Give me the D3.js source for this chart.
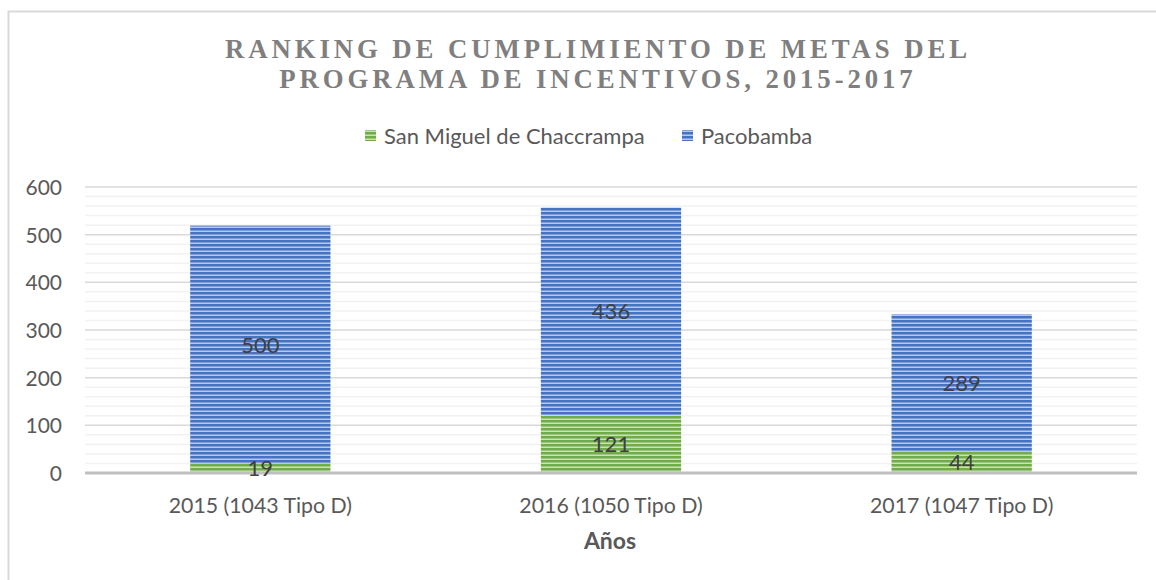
<!DOCTYPE html>
<html><head><meta charset="utf-8">
<script src="https://cdn.jsdelivr.net/npm/d3@7"></script>
<style>body{margin:0;background:#fff}svg{display:block}</style>
</head><body><svg id="c" width="1156" height="580"></svg>
<script>
const categories = ["2015 (1043 Tipo D)", "2016 (1050 Tipo D)", "2017 (1047 Tipo D)"];
const seriesNames = ["San Miguel de Chaccrampa", "Pacobamba"];
const sanMiguel = [19, 121, 44];
const pacobamba = [500, 436, 289];
const yTicks = [0, 100, 200, 300, 400, 500, 600];
const titleLines = ["RANKING DE CUMPLIMIENTO DE METAS DEL", "PROGRAMA DE INCENTIVOS, 2015-2017"];
const xTitle = "Años";

const svg = d3.select("#c");
const font = "Lato, 'Open Sans', sans-serif";
const colors = {dark: ["#70ad47", "#4472c4"], light: ["#c9e2b8", "#b7c9ea"]};

const defs = svg.append("defs");
seriesNames.forEach((s, i) => {
  const p = defs.append("pattern").attr("id", "pat" + i).attr("patternUnits", "userSpaceOnUse")
    .attr("width", 8).attr("height", 4);
  p.append("rect").attr("width", 8).attr("height", 4).attr("fill", colors.dark[i]);
  p.append("rect").attr("y", 2.5).attr("width", 8).attr("height", 1.5).attr("fill", colors.light[i]);
});

// border
svg.append("rect").attr("x", 8.5).attr("y", 11.5).attr("width", 1200).attr("height", 600)
  .attr("fill", "none").attr("stroke", "#d9d9d9").attr("stroke-width", 2);

const x = d3.scaleBand().domain(categories).range([85, 1137]).paddingInner(0.6).paddingOuter(0.3);
const y = d3.scaleLinear().domain([0, 600]).range([473, 187]);

// minor grid
const minor = d3.range(20, 601, 20).filter(v => v % 100 !== 0);
svg.append("g").selectAll("line").data(minor).join("line")
  .attr("x1", 85).attr("x2", 1137).attr("y1", d => y(d)).attr("y2", d => y(d))
  .attr("stroke", "#f2f2f2").attr("stroke-width", 1.5);
// major grid
svg.append("g").selectAll("line").data(yTicks.filter(v => v > 0)).join("line")
  .attr("x1", 85).attr("x2", 1137).attr("y1", d => y(d)).attr("y2", d => y(d))
  .attr("stroke", "#d9d9d9").attr("stroke-width", 1.5);

// y axis labels
const yAxis = d3.axisLeft(y).tickValues(yTicks).tickSize(0).tickPadding(0);
const gy = svg.append("g").attr("transform", "translate(62,0)").call(yAxis);
gy.select(".domain").remove();
gy.selectAll("text").attr("font-family", font).attr("font-size", 21).attr("fill", "#595959").attr("dy", "0.36em");

// stacked bars
const stackData = categories.map((c, i) => ({cat: c, s0: sanMiguel[i], s1: pacobamba[i]}));
const stack = d3.stack().keys(["s0", "s1"])(stackData);
stack.forEach((layer, li) => {
  svg.append("g").selectAll("rect").data(layer).join("rect")
    .attr("x", d => x(d.data.cat)).attr("width", x.bandwidth())
    .attr("y", d => y(d[1])).attr("height", d => y(d[0]) - y(d[1]))
    .attr("fill", `url(#pat${li})`);
});

// x axis line
svg.append("line").attr("x1", 85).attr("x2", 1137).attr("y1", y(0)).attr("y2", y(0))
  .attr("stroke", "#bfbfbf").attr("stroke-width", 3);

// data labels
stack.forEach((layer) => {
  svg.append("g").selectAll("text").data(layer).join("text")
    .attr("x", d => x(d.data.cat) + x.bandwidth() / 2)
    .attr("y", d => (y(d[0]) + y(d[1])) / 2).attr("dy", "0.36em")
    .attr("text-anchor", "middle").attr("font-family", font).attr("font-size", 22)
    .attr("fill", "#404040").text(d => d[1] - d[0]);
});

// x axis labels
const xAxis = d3.axisBottom(x).tickSize(0).tickPadding(0);
const gx = svg.append("g").attr("transform", "translate(0,513)").call(xAxis);
gx.select(".domain").remove();
gx.selectAll("text").attr("font-family", font).attr("font-size", 21.3).attr("fill", "#595959").attr("dy", 0);

svg.append("text").attr("x", 610).attr("y", 549).attr("text-anchor", "middle")
  .attr("font-family", font).attr("font-size", 23).attr("font-weight", "bold").attr("fill", "#595959").text(xTitle);

// title
svg.append("g").selectAll("text").data(titleLines).join("text")
  .attr("x", 598).attr("y", (d, i) => 57.5 + i * 30.5).attr("text-anchor", "middle")
  .attr("font-family", "'Liberation Serif', serif").attr("font-weight", "bold").attr("font-size", 26.8)
  .attr("letter-spacing", 3.9).attr("fill", "#7f7f7f").text(d => d);

// legend
const legX = [365, 682];
const lg = svg.append("g");
seriesNames.forEach((s, i) => {
  lg.append("rect").attr("x", legX[i]).attr("y", 130).attr("width", 11).attr("height", 11).attr("fill", `url(#pat${i})`);
  lg.append("text").attr("x", legX[i] + 19).attr("y", 136).attr("dy", "0.36em")
    .attr("font-family", font).attr("font-size", 22).attr("fill", "#595959").text(s);
});
</script></body></html>
